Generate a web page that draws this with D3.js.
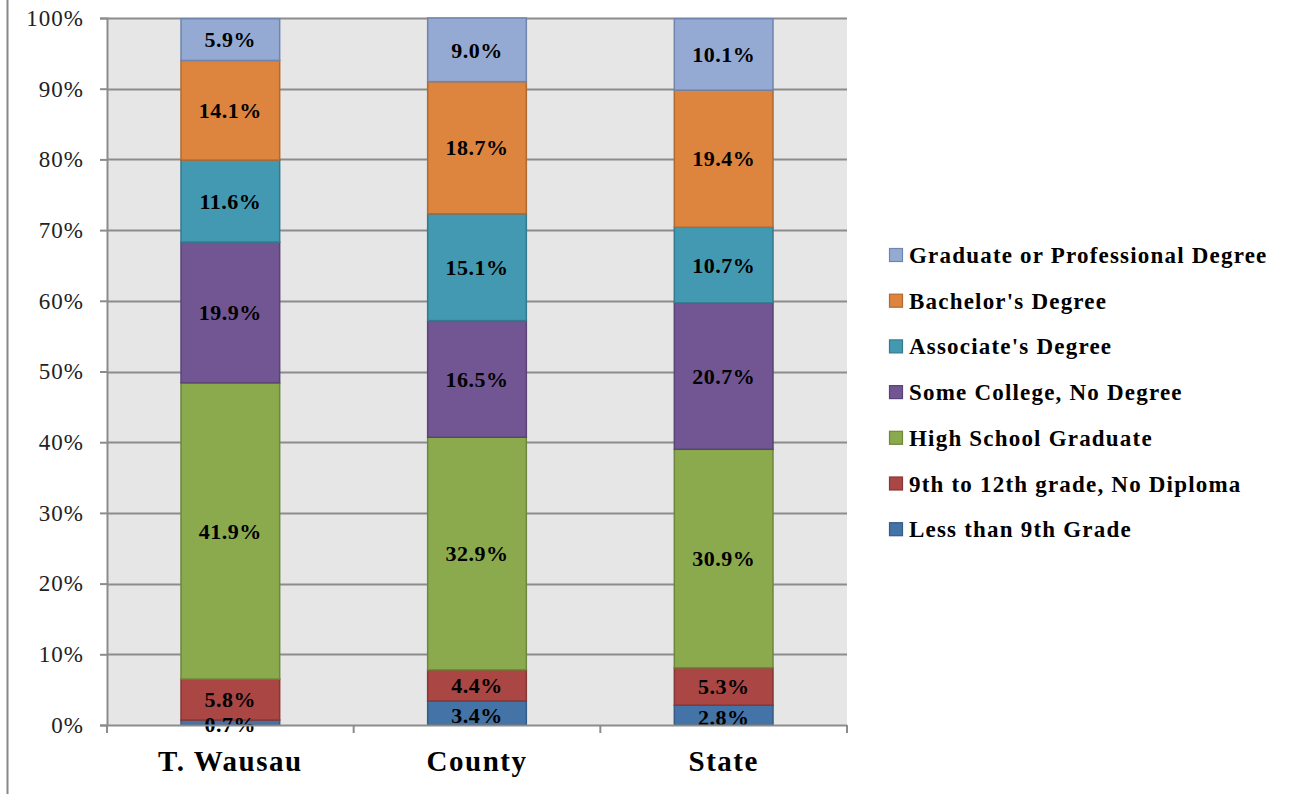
<!DOCTYPE html>
<html>
<head>
<meta charset="utf-8">
<script src="https://cdn.jsdelivr.net/npm/d3@7"></script>
<style>
  body { margin: 0; background: #fff; }
  svg { display: block; font-family: "Liberation Serif", "DejaVu Serif", serif; }
</style>
</head>
<body>
<div id="chart"></div>
<script>
// education attainment, share of population 25+
const places = ["T. Wausau", "County", "State"];
const levels = [
  "Less than 9th Grade",
  "9th to 12th grade, No Diploma",
  "High School Graduate",
  "Some College, No Degree",
  "Associate's Degree",
  "Bachelor's Degree",
  "Graduate or Professional Degree"
];
const wausauVals = [0.7, 5.8, 41.9, 19.9, 11.6, 14.1, 5.9];
const countyVals = [3.4, 4.4, 32.9, 16.5, 15.1, 18.7, 9.0];
const stateVals  = [2.8, 5.3, 30.9, 20.7, 10.7, 19.4, 10.1];
const yTicks = [0, 10, 20, 30, 40, 50, 60, 70, 80, 90, 100];

const fills   = ["#4473a7", "#aa4644", "#8ba94d", "#725693", "#4299b1", "#dd843f", "#95aad3"];
const strokes = ["#355b86", "#873735", "#6e873c", "#5a4475", "#347a8d", "#b16930", "#6f85ad"];

const W = 1299, H = 794;
const margin = {top: 18, left: 107, right: 452, bottom: 69};
const width = W - margin.left - margin.right;
const height = H - margin.top - margin.bottom;

// build rows for the stack
const rows = places.map((p, i) => {
  const vals = [wausauVals, countyVals, stateVals][i];
  const r = {place: p};
  levels.forEach((l, j) => r[l] = vals[j]);
  return r;
});
const series = d3.stack().keys(levels)(rows);

const svg = d3.select("#chart").append("svg")
  .attr("width", W).attr("height", H);

// outer chart border (left edge only visible)
svg.append("line")
  .attr("x1", 7.5).attr("x2", 7.5).attr("y1", 0).attr("y2", H)
  .attr("stroke", "#888").attr("stroke-width", 2);

const g = svg.append("g")
  .attr("transform", `translate(${margin.left}, ${margin.top})`);

const x = d3.scaleBand().domain(places).range([0, width]).paddingInner(0.6).paddingOuter(0.3);
const y = d3.scaleLinear().domain([0, 100]).range([height, 0]);

// plot background
g.append("rect")
  .attr("width", width).attr("height", height)
  .attr("fill", "#e6e6e6");

// gridlines
g.selectAll(".grid")
  .data(yTicks.filter(d => d > 0))
  .enter().append("line")
  .attr("x1", 0).attr("x2", width)
  .attr("y1", d => Math.round(y(d)) + 0.5).attr("y2", d => Math.round(y(d)) + 0.5)
  .attr("stroke", "#8c8c8c").attr("stroke-width", 2);

// bars
const layer = g.selectAll(".layer")
  .data(series)
  .enter().append("g")
  .attr("fill", (d, i) => fills[i])
  .attr("stroke", (d, i) => strokes[i]);

layer.selectAll("rect")
  .data(d => d)
  .enter().append("rect")
  .attr("x", d => x(d.data.place))
  .attr("y", d => y(d[1]))
  .attr("width", x.bandwidth())
  .attr("height", d => y(d[0]) - y(d[1]))
  .attr("stroke-width", 1.5);

// value labels
series.forEach((s, i) => {
  g.selectAll(null)
    .data(s)
    .enter().append("text")
    .attr("x", d => x(d.data.place) + x.bandwidth() / 2)
    .attr("y", d => (y(d[0]) + y(d[1])) / 2 + (i === 0 ? 2 : 0))
    .attr("dy", "0.35em")
    .attr("text-anchor", "middle")
    .attr("font-weight", "bold")
    .attr("font-size", "22px")
    .attr("letter-spacing", "0.5px")
    .attr("fill", "#000")
    .text(d => (d[1] - d[0]).toFixed(1) + "%");
});

// y axis
const yAxis = g.append("g")
  .call(d3.axisLeft(y).tickValues(yTicks).tickFormat(d => d + "%").tickSize(7).tickPadding(16));
yAxis.select(".domain").attr("stroke", "#8c8c8c").attr("stroke-width", 2);
yAxis.selectAll(".tick line").attr("stroke", "#8c8c8c").attr("stroke-width", 2);
yAxis.selectAll(".tick text")
  .attr("font-size", "23px").attr("fill", "#222")
  .attr("letter-spacing", "1px")
  .attr("font-family", "Liberation Serif, serif");

// x axis: ticks between categories
const xAxis = g.append("g").attr("transform", `translate(0, ${height})`);
xAxis.append("line")
  .attr("x1", 0).attr("x2", width).attr("y1", 0.5).attr("y2", 0.5)
  .attr("stroke", "#8c8c8c").attr("stroke-width", 2);
xAxis.selectAll(".xtick")
  .data(d3.range(places.length + 1))
  .enter().append("line")
  .attr("x1", d => d * width / places.length).attr("x2", d => d * width / places.length)
  .attr("y1", 0).attr("y2", 8)
  .attr("stroke", "#8c8c8c").attr("stroke-width", 2);
xAxis.selectAll(".xlabel")
  .data(places)
  .enter().append("text")
  .attr("x", d => x(d) + x.bandwidth() / 2)
  .attr("y", 46)
  .attr("text-anchor", "middle")
  .attr("font-weight", "bold")
  .attr("font-size", "29px")
  .attr("letter-spacing", "1.5px")
  .text(d => d);

// legend, top entry is the top segment
const legend = svg.append("g").attr("transform", "translate(889, 255)");
const legendItems = legend.selectAll(".item")
  .data(levels.slice().reverse())
  .enter().append("g")
  .attr("transform", (d, i) => `translate(0, ${i * 45.7})`);
legendItems.append("rect")
  .attr("x", 0.5).attr("y", -6.5).attr("width", 13).attr("height", 13)
  .attr("fill", (d, i) => fills[levels.length - 1 - i])
  .attr("stroke", (d, i) => strokes[levels.length - 1 - i])
  .attr("stroke-width", 1.2);
legendItems.append("text")
  .attr("x", 20).attr("dy", "0.35em")
  .attr("font-weight", "bold").attr("font-size", "23px")
  .attr("letter-spacing", "1.2px")
  .text(d => d);
</script>
</body>
</html>
